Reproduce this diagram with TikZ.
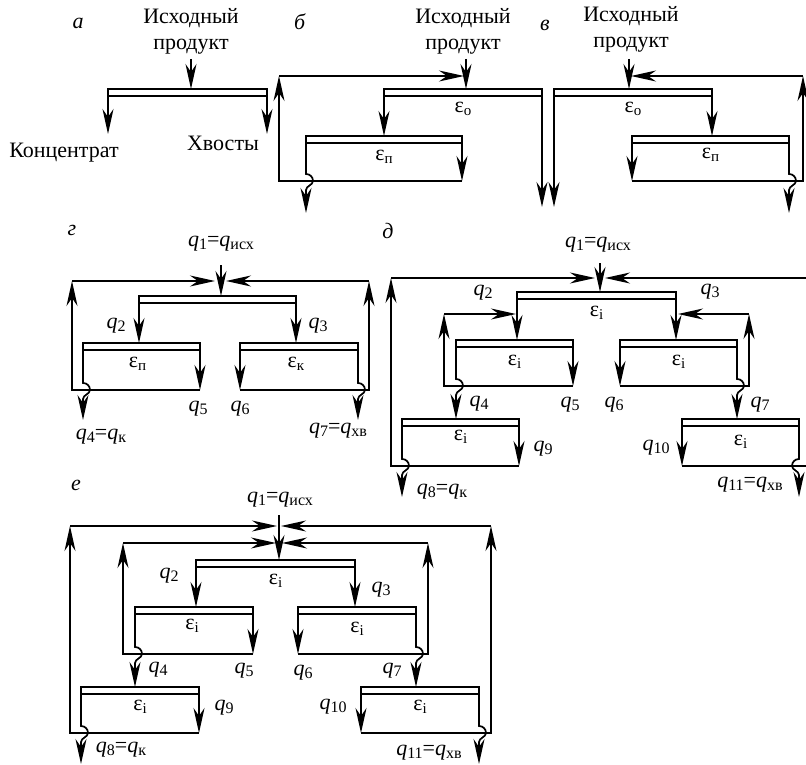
\documentclass[tikz,border=0pt]{standalone}
\usepackage{fontspec}
\setmainfont{Liberation Serif}
\usetikzlibrary{arrows.meta, positioning, calc}

\newcommand{\qsub}[1]{\textit{q}\raisebox{-0.3ex}{\fontsize{16}{16}\selectfont #1}}
\newcommand{\esub}[1]{ε\raisebox{-0.3ex}{\fontsize{15}{15}\selectfont #1}}
\newcommand{\hopleg}[4]{%
  \draw[flow] (#1) -- ($(#1 |- #2)+(0,-7)$)
    .. controls +({#3*4},0) and +(0,-4) .. ++({#3*7},7)
    .. controls +(0,4) and +(0,-4) .. ++({#3*(-7)},9) -- (#4);}

\begin{document}
\begin{tikzpicture}[
                x=1pt, y=-1pt,
                every node/.style={inner sep=0pt, outer sep=0pt},
                lbl/.style={font=\fontsize{22}{26}\selectfont, align=center},
                sepbar/.style={draw, line width=1.7pt, fill=white, anchor=north west, minimum height=7pt},
                flow/.style={line width=1.7pt, -{Stealth[length=25pt, width=11pt, inset=8pt]}},
                plain/.style={line width=1.7pt}
            ]
                \useasboundingbox (0,0) rectangle (806,765);

                % a
                \node[lbl] (ta) at (78,23) {\textit{а}};
                \node[lbl] (ain) at (191,31) {Исходный\\продукт};
                \node[lbl] (acon) at (64,153) {Концентрат};
                \node[lbl] (ahv) at (223,143) {Хвосты};
                \node[sepbar, minimum width=159pt] (ab) at (108,89) {};
                \coordinate (a1) at (191,59);
                \coordinate (a2) at (108,134);
                \coordinate (a3) at (267,134);
                \draw[flow] (a1) -- (a1 |- ab.north);
                \draw[flow] (ab.south west) -- (a2);
                \draw[flow] (ab.south east) -- (a3);

                % b
                \node[lbl] (tb) at (300,22) {\textit{б}};
                \node[lbl] (bin) at (463,31) {Исходный\\продукт};
                \node[sepbar, minimum width=158pt] (bo) at (384,89) {};
                \node[sepbar, minimum width=156pt] (bp) at (306,136) {};
                \node[lbl, below=6pt of bo] (beo) {\esub{о}};
                \node[lbl, below=7pt of bp] (bep) {\esub{п}};
                \coordinate (b1) at (466,59);
                \coordinate (b2) at (462,181);
                \coordinate (b3) at (279,181);
                \coordinate (b4) at (279,76);
                \coordinate (b5) at (464,76);
                \coordinate (b6) at (306,213);
                \coordinate (b7) at (542,207);
                \draw[flow] (b1) -- (b1 |- bo.north);
                \draw[flow] (bo.south west) -- (bo.south west |- bp.north);
                \draw[flow] (bo.south east) -- (b7);
                \draw[flow] (bp.south east) -- (b2);
                \draw[flow] (b2) -- (b3) -- (b4);
                \draw[flow] (b4) -- (b5);
                \hopleg{bp.south west}{b3}{1}{b6}

                % v
                \node[lbl] (tv) at (545,25) {\textit{в}};
                \node[lbl] (vin) at (631,29) {Исходный\\продукт};
                \node[sepbar, minimum width=158pt] (vo) at (554,89) {};
                \node[sepbar, minimum width=157pt] (vp) at (632,136) {};
                \node[lbl, below=6pt of vo] (veo) {\esub{о}};
                \node[lbl, below=5pt of vp] (vep) {\esub{п}};
                \coordinate (v1) at (629,59);
                \coordinate (v2) at (632,181);
                \coordinate (v3) at (803,181);
                \coordinate (v4) at (803,76);
                \coordinate (v5) at (631,76);
                \coordinate (v6) at (789,213);
                \coordinate (v7) at (554,207);
                \draw[flow] (v1) -- (v1 |- vo.north);
                \draw[flow] (vo.south east) -- (vo.south east |- vp.north);
                \draw[flow] (vo.south west) -- (v7);
                \draw[flow] (vp.south west) -- (v2);
                \draw[flow] (v2) -- (v3) -- (v4);
                \draw[flow] (v4) -- (v5);
                \hopleg{vp.south east}{v3}{1}{v6}

                % g
                \node[lbl] (tg) at (72,230) {\textit{г}};
                \node[lbl] (gq1) at (221,244) {\qsub{1}=\qsub{исх}};
                \node[lbl] (gq2) at (116,326) {\qsub{2}};
                \node[lbl] (gq3) at (318,326) {\qsub{3}};
                \node[lbl] (gq4) at (101,437) {\qsub{4}=\qsub{к}};
                \node[lbl] (gq5) at (198,409) {\qsub{5}};
                \node[lbl] (gq6) at (240,409) {\qsub{6}};
                \node[lbl] (gq7) at (338,431) {\qsub{7}=\qsub{хв}};
                \node[sepbar, minimum width=157pt] (gt) at (139,296) {};
                \node[sepbar, minimum width=117pt] (gl) at (83,343) {};
                \node[sepbar, minimum width=118pt] (gr) at (240,343) {};
                \node[lbl, below=7pt of gl, xshift=-4pt] (gel) {\esub{п}};
                \node[lbl, below=7pt of gr, xshift=-3pt] (ger) {\esub{к}};
                \coordinate (g1) at (221,265);
                \coordinate (g2) at (72,281);
                \coordinate (g3) at (369,281);
                \coordinate (g4) at (215,281);
                \coordinate (g5) at (226,281);
                \coordinate (g6) at (200,390);
                \coordinate (g7) at (72,390);
                \coordinate (g8) at (240,390);
                \coordinate (g9) at (369,390);
                \coordinate (g10) at (83,420);
                \coordinate (g11) at (358,420);
                \draw[flow] (g1) -- (g1 |- gt.north);
                \draw[flow] (gt.south west) -- (gt.south west |- gl.north);
                \draw[flow] (gt.south east) -- (gt.south east |- gr.north);
                \draw[flow] (gl.south east) -- (g6);
                \draw[flow] (gr.south west) -- (g8);
                \draw[flow] (g6) -- (g7) -- (g2);
                \draw[flow] (g8) -- (g9) -- (g3);
                \draw[flow] (g2) -- (g4);
                \draw[flow] (g3) -- (g5);
                \hopleg{gl.south west}{g7}{1}{g10}
                \hopleg{gr.south east}{g9}{1}{g11}

                % d
                \node[lbl] (td) at (388,231) {\textit{д}};
                \node[lbl] (dq1) at (598,245) {\qsub{1}=\qsub{исх}};
                \node[lbl] (dq2) at (483,293) {\qsub{2}};
                \node[lbl] (dq3) at (710,292) {\qsub{3}};
                \node[lbl] (dq4) at (479,404) {\qsub{4}};
                \node[lbl] (dq5) at (570,405) {\qsub{5}};
                \node[lbl] (dq6) at (614,405) {\qsub{6}};
                \node[lbl] (dq7) at (760,405) {\qsub{7}};
                \node[lbl] (dq8) at (442,492) {\qsub{8}=\qsub{к}};
                \node[lbl] (dq9) at (543,449) {\qsub{9}};
                \node[lbl] (dq10) at (656,448) {\qsub{10}};
                \node[lbl] (dq11) at (750,485) {\qsub{11}=\qsub{хв}};
                \node[sepbar, minimum width=159pt] (dt) at (517,292) {};
                \node[sepbar, minimum width=117pt] (dl) at (456,340) {};
                \node[sepbar, minimum width=117pt] (dr) at (620,340) {};
                \node[sepbar, minimum width=117pt] (dll) at (402,419) {};
                \node[sepbar, minimum width=117pt] (drr) at (682,419) {};
                \node[lbl, below=7pt of dt] (det) {\esub{i}};
                \node[lbl, below=8pt of dl] (del) {\esub{i}};
                \node[lbl, below=8pt of dr] (der) {\esub{i}};
                \node[lbl, below=4pt of dll] (dell) {\esub{i}};
                \node[lbl, below=9pt of drr] (derr) {\esub{i}};
                \coordinate (d1) at (600,263);
                \coordinate (d2) at (391,278);
                \coordinate (d3) at (806,278);
                \coordinate (d4) at (595,278);
                \coordinate (d5) at (605,278);
                \coordinate (d6) at (444,314);
                \coordinate (d7) at (749,314);
                \coordinate (d8) at (516,314);
                \coordinate (d9) at (678,314);
                \coordinate (d10) at (573,386);
                \coordinate (d11) at (444,386);
                \coordinate (d12) at (620,386);
                \coordinate (d13) at (749,386);
                \coordinate (d14) at (519,466);
                \coordinate (d15) at (391,466);
                \coordinate (d16) at (682,466);
                \coordinate (d17) at (806,466);
                \coordinate (d18) at (402,497);
                \coordinate (d19) at (799,497);
                \draw[flow] (d1) -- (d1 |- dt.north);
                \draw[flow] (dt.south west) -- (dt.south west |- dl.north);
                \draw[flow] (dt.south east) -- (dt.south east |- dr.north);
                \draw[flow] (dl.south east) -- (d10);
                \draw[flow] (dr.south west) -- (d12);
                \draw[flow] (d10) -- (d11) -- (d6);
                \draw[flow] (d12) -- (d13) -- (d7);
                \draw[flow] (d6) -- (d8);
                \draw[flow] (d7) -- (d9);
                \draw[flow] (dll.south east) -- (d14);
                \draw[flow] (drr.south west) -- (d16);
                \draw[flow] (d14) -- (d15) -- (d2);
                \draw[flow] (d2) -- (d4);
                \draw[flow] (d3) -- (d5);
                \draw[plain] (d16) -- (d17);
                \hopleg{dl.south west}{d11}{1}{dl.south west |- dll.north}
                \hopleg{dr.south east}{d13}{1}{dr.south east |- drr.north}
                \hopleg{dll.south west}{d15}{1}{d18}
                \hopleg{drr.south east}{d17}{-1}{d19}

                % e
                \node[lbl] (te) at (76,485) {\textit{е}};
                \node[lbl] (eq1) at (280,500) {\qsub{1}=\qsub{исх}};
                \node[lbl] (eq2) at (169,576) {\qsub{2}};
                \node[lbl] (eq3) at (381,590) {\qsub{3}};
                \node[lbl] (eq4) at (158,670) {\qsub{4}};
                \node[lbl] (eq5) at (244,671) {\qsub{5}};
                \node[lbl] (eq6) at (303,673) {\qsub{6}};
                \node[lbl] (eq7) at (392,671) {\qsub{7}};
                \node[lbl] (eq8) at (121,750) {\qsub{8}=\qsub{к}};
                \node[lbl] (eq9) at (224,708) {\qsub{9}};
                \node[lbl] (eq10) at (333,707) {\qsub{10}};
                \node[lbl] (eq11) at (429,753) {\qsub{11}=\qsub{хв}};
                \node[sepbar, minimum width=159pt] (et) at (196,560) {};
                \node[sepbar, minimum width=118pt] (el) at (135,607) {};
                \node[sepbar, minimum width=118pt] (er) at (298,607) {};
                \node[sepbar, minimum width=118pt] (ell) at (81,687) {};
                \node[sepbar, minimum width=118pt] (err) at (361,687) {};
                \node[lbl, below=7pt of et] (eet) {\esub{i}};
                \node[lbl, below=5pt of el, xshift=-2pt] (eel) {\esub{i}};
                \node[lbl, below=8pt of er] (eer) {\esub{i}};
                \node[lbl, below=6pt of ell] (eell) {\esub{i}};
                \node[lbl, below=6pt of err] (eerr) {\esub{i}};
                \coordinate (e1) at (279,515);
                \coordinate (e2) at (70,526);
                \coordinate (e3) at (491,526);
                \coordinate (e4) at (277,526);
                \coordinate (e5) at (281,526);
                \coordinate (e6) at (123,543);
                \coordinate (e7) at (428,543);
                \coordinate (e8) at (276,543);
                \coordinate (e9) at (282,543);
                \coordinate (e10) at (253,654);
                \coordinate (e11) at (123,654);
                \coordinate (e12) at (298,654);
                \coordinate (e13) at (428,654);
                \coordinate (e14) at (199,733);
                \coordinate (e15) at (70,733);
                \coordinate (e16) at (361,733);
                \coordinate (e17) at (491,733);
                \coordinate (e18) at (81,764);
                \coordinate (e19) at (479,764);
                \draw[flow] (e1) -- (e1 |- et.north);
                \draw[flow] (et.south west) -- (et.south west |- el.north);
                \draw[flow] (et.south east) -- (et.south east |- er.north);
                \draw[flow] (el.south east) -- (e10);
                \draw[flow] (er.south west) -- (e12);
                \draw[flow] (e10) -- (e11) -- (e6);
                \draw[flow] (e12) -- (e13) -- (e7);
                \draw[flow] (e6) -- (e8);
                \draw[flow] (e7) -- (e9);
                \draw[flow] (ell.south east) -- (e14);
                \draw[flow] (err.south west) -- (e16);
                \draw[flow] (e14) -- (e15) -- (e2);
                \draw[flow] (e16) -- (e17) -- (e3);
                \draw[flow] (e2) -- (e4);
                \draw[flow] (e3) -- (e5);
                \hopleg{el.south west}{e11}{1}{el.south west |- ell.north}
                \hopleg{er.south east}{e13}{1}{er.south east |- err.north}
                \hopleg{ell.south west}{e15}{1}{e18}
                \hopleg{err.south east}{e17}{1}{e19}
            \end{tikzpicture}
\end{document}
